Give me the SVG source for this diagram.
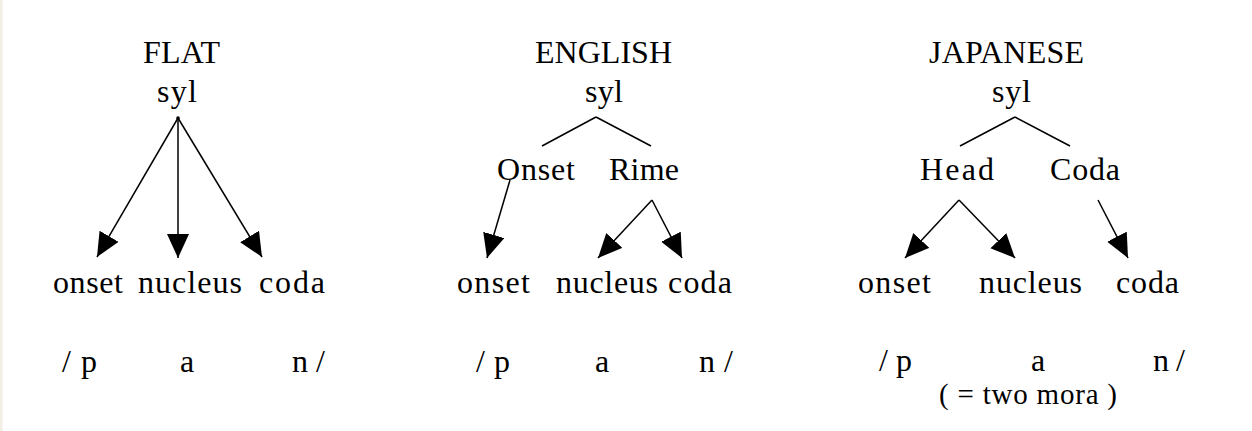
<svg xmlns="http://www.w3.org/2000/svg" width="1252" height="431" viewBox="0 0 1252 431">
<style>
text{font-family:"Liberation Serif","Times New Roman",serif;font-size:32px;fill:#000;}
.small{font-size:29px;}
.ln{stroke:#000;stroke-width:1.5;fill:none;}
.ar{marker-end:url(#ah);}
</style>
<defs>
<marker id="ah" markerUnits="userSpaceOnUse" markerWidth="26" markerHeight="24" refX="24" refY="11" orient="auto" viewBox="0 0 26 24">
<path d="M0,0 L24,11 L0,22 Z" fill="#000"/>
</marker>
</defs>
<rect x="0" y="0" width="1252" height="431" fill="#fff"/>
<rect x="0" y="0" width="2.5" height="431" fill="#f2eee6"/>

<g id="connectors">
<line class="ln ar" x1="178" y1="118" x2="97" y2="257"/>
<line class="ln ar" x1="178" y1="118" x2="178" y2="258"/>
<line class="ln ar" x1="178" y1="118" x2="262" y2="257"/>
<line class="ln" x1="596" y1="117" x2="542" y2="146"/>
<line class="ln" x1="596" y1="117" x2="651" y2="146"/>
<line class="ln ar" x1="510" y1="180" x2="487" y2="258"/>
<line class="ln ar" x1="652" y1="200" x2="598" y2="258"/>
<line class="ln ar" x1="652" y1="200" x2="682" y2="258"/>
<line class="ln" x1="1015" y1="117" x2="960" y2="146"/>
<line class="ln" x1="1015" y1="117" x2="1070" y2="146"/>
<line class="ln ar" x1="959" y1="200" x2="905" y2="258"/>
<line class="ln ar" x1="959" y1="200" x2="1015" y2="258"/>
<line class="ln ar" x1="1098" y1="200" x2="1128" y2="258"/>
</g>

<g id="flat">
<text x="143" y="63" textLength="77" lengthAdjust="spacing">FLAT</text>
<g id="flat-syl"><text x="157" y="102" textLength="40" lengthAdjust="spacing">syl</text><circle cx="178" cy="118" r="1.8" fill="#000"/></g>
<g id="flat-onset"><text x="53" y="293" textLength="70" lengthAdjust="spacing">onset</text></g>
<g id="flat-nucleus"><text x="138" y="293" textLength="104" lengthAdjust="spacing">nucleus</text></g>
<g id="flat-coda"><text x="259" y="293" textLength="66" lengthAdjust="spacing">coda</text></g>
<text x="62" y="372" textLength="35" lengthAdjust="spacing">/p</text>
<text x="180" y="372">a</text>
<text x="292" y="372" textLength="33" lengthAdjust="spacing">n/</text>
</g>

<g id="english">
<text x="535" y="63" textLength="137" lengthAdjust="spacing">ENGLISH</text>
<g id="english-syl"><text x="585" y="102" textLength="38" lengthAdjust="spacing">syl</text></g>
<g id="english-Onset"><text x="497" y="180" textLength="78" lengthAdjust="spacing">Onset</text></g>
<g id="english-Rime"><text x="609" y="180" textLength="70" lengthAdjust="spacing">Rime</text></g>
<g id="english-onset"><text x="457" y="293" textLength="73" lengthAdjust="spacing">onset</text></g>
<g id="english-nucleus"><text x="556" y="293" textLength="102" lengthAdjust="spacing">nucleus</text></g>
<g id="english-coda"><text x="668" y="293" textLength="64" lengthAdjust="spacing">coda</text></g>
<text x="476" y="372" textLength="34" lengthAdjust="spacing">/p</text>
<text x="595" y="372">a</text>
<text x="699" y="372" textLength="34" lengthAdjust="spacing">n/</text>
</g>

<g id="japanese">
<text x="929" y="63" textLength="155" lengthAdjust="spacing">JAPANESE</text>
<g id="japanese-syl"><text x="992" y="102" textLength="39" lengthAdjust="spacing">syl</text></g>
<g id="japanese-Head"><text x="920" y="180" textLength="74" lengthAdjust="spacing">Head</text></g>
<g id="japanese-Coda"><text x="1050" y="180" textLength="70" lengthAdjust="spacing">Coda</text></g>
<g id="japanese-onset"><text x="858" y="293" textLength="73" lengthAdjust="spacing">onset</text></g>
<g id="japanese-nucleus"><text x="979" y="293" textLength="103" lengthAdjust="spacing">nucleus</text></g>
<g id="japanese-coda"><text x="1116" y="293" textLength="63" lengthAdjust="spacing">coda</text></g>
<text x="879" y="371" textLength="33" lengthAdjust="spacing">/p</text>
<text x="1031" y="371">a</text>
<text x="1153" y="371" textLength="32" lengthAdjust="spacing">n/</text>
<text class="small" x="939" y="404" textLength="178" lengthAdjust="spacing">( = two mora )</text>
</g>
</svg>
